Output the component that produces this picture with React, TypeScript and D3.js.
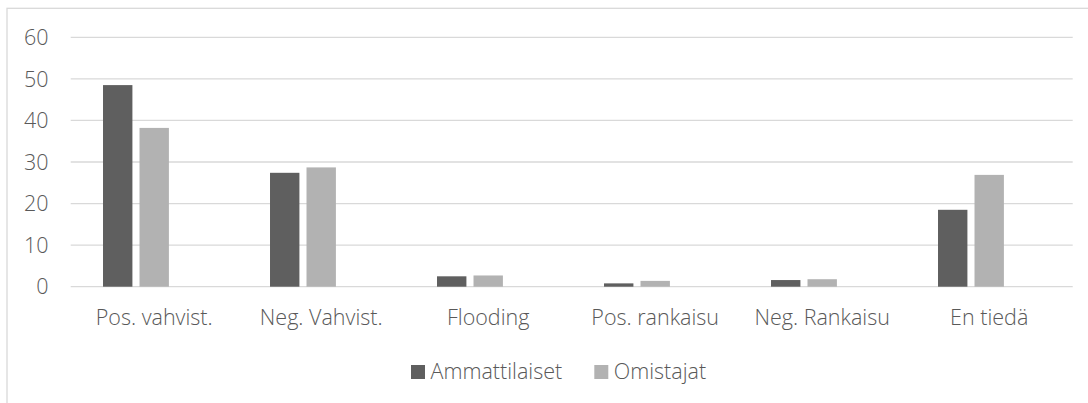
import React from "react";
import * as d3 from "d3";

// Categories and series values (percent)
const categories = [
  "Pos. vahvist.",
  "Neg. Vahvist.",
  "Flooding",
  "Pos. rankaisu",
  "Neg. Rankaisu",
  "En tiedä",
];
const seriesNames = ["Ammattilaiset", "Omistajat"];
const ammattilaiset = [48.5, 27.4, 2.5, 0.8, 1.6, 18.5];
const omistajat = [38.2, 28.7, 2.7, 1.4, 1.8, 26.9];
const yTicks = [0, 10, 20, 30, 40, 50, 60];

const seriesValues = [ammattilaiset, omistajat];
const seriesColors = ["#5f5f5f", "#b2b2b2"];

const W = 1088;
const H = 403;
const plot = { left: 70.7, right: 1072.7, top: 37.3, bottom: 286.7 };
const FONT = "'Open Sans', 'Liberation Sans', sans-serif";
const FS = 21.5;
const TEXT = "#595959";
const GRID = "#d9d9d9";

export default function App() {
  const x0 = d3
    .scaleBand<string>()
    .domain(categories)
    .range([plot.left, plot.right])
    .padding(0);

  // Each cluster reserves room for three series; only two carry data.
  const slots = ["0", "1", "2"];
  const groupOffset = x0.bandwidth() * 0.1935;
  const x1 = d3
    .scaleBand<string>()
    .domain(slots)
    .range([groupOffset, x0.bandwidth() - groupOffset])
    .paddingInner(7 / 36)
    .paddingOuter(0);

  const y = d3.scaleLinear().domain([0, 60]).range([plot.bottom, plot.top]);

  const legendItems = [
    { name: seriesNames[0], color: seriesColors[0], x: 411 },
    { name: seriesNames[1], color: seriesColors[1], x: 594.3 },
  ];

  return (
    <svg
      width={W}
      height={H}
      style={{ position: "absolute", left: 0, top: 0, background: "#fff" }}
      fontFamily={FONT}
      fontWeight={300}
    >
      {/* chart frame */}
      <rect
        x={7}
        y={8.3}
        width={W + 20}
        height={H + 20}
        fill="#fff"
        stroke={GRID}
        strokeWidth={1.3}
      />

      {/* gridlines and y tick labels */}
      {yTicks.map((t) => (
        <g key={t}>
          <line
            x1={plot.left}
            x2={plot.right}
            y1={y(t)}
            y2={y(t)}
            stroke={GRID}
            strokeWidth={1.3}
          />
          <text
            x={48.5}
            y={y(t)}
            dy="0.36em"
            textAnchor="end"
            fontSize={FS}
            fill={TEXT}
          >
            {t}
          </text>
        </g>
      ))}

      {/* bars */}
      {categories.map((c, ci) => (
        <g key={c} transform={`translate(${x0(c)},0)`}>
          {seriesValues.map((vals, si) => (
            <rect
              key={si}
              x={x1(String(si))}
              y={y(vals[ci])}
              width={x1.bandwidth()}
              height={y(0) - y(vals[ci])}
              fill={seriesColors[si]}
            />
          ))}
        </g>
      ))}

      {/* category labels */}
      {categories.map((c) => (
        <text
          key={c}
          x={(x0(c) as number) + x0.bandwidth() / 2}
          y={325}
          textAnchor="middle"
          fontSize={FS}
          fill={TEXT}
        >
          {c}
        </text>
      ))}

      {/* legend */}
      {legendItems.map((it) => (
        <g key={it.name}>
          <rect x={it.x} y={365} width={14} height={14} fill={it.color} />
          <text x={it.x + 19.5} y={378.5} fontSize={FS} fill={TEXT}>
            {it.name}
          </text>
        </g>
      ))}
    </svg>
  );
}
